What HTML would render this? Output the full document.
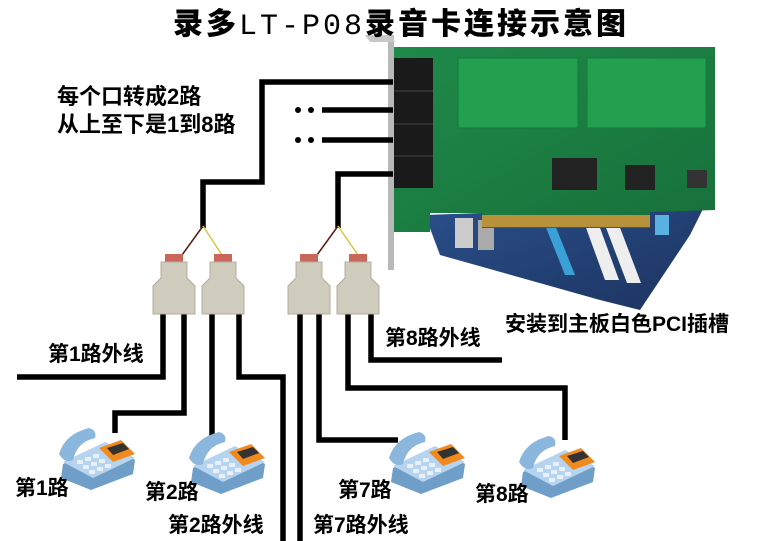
<!DOCTYPE html>
<html><head><meta charset="utf-8"><style>
html,body{margin:0;padding:0;background:#fff;}
body{width:760px;height:541px;overflow:hidden;position:relative;font-family:"Liberation Sans","Noto Sans CJK SC",sans-serif;}
.t{position:absolute;font-weight:bold;color:#000;white-space:nowrap;line-height:1;}
</style></head><body>
<svg width="760" height="541" style="position:absolute;left:0;top:0">
<defs>
<linearGradient id="pcb" x1="0" y1="0" x2="1" y2="1"><stop offset="0" stop-color="#1f8a4a"/><stop offset="1" stop-color="#17703a"/></linearGradient>
<linearGradient id="mb" x1="0" y1="0" x2="1" y2="1"><stop offset="0" stop-color="#2a4f8a"/><stop offset="1" stop-color="#1c3360"/></linearGradient>
<g id="phone">
 <path d="M8 40 L50 20 L80 36 L78 50 L36 66 L6 54 Z" fill="#6f9fc8"/>
 <path d="M8 38 L50 18 L80 34 L38 54 Z" fill="#b6d4ef"/>
 <path d="M44 24 L66 16 L80 30 L58 38 Z" fill="#f08a1e"/>
 <path d="M52 24 L68 19 L74 25 L58 31 Z" fill="#333"/>
 <path d="M4 30 Q10 10 34 4 Q42 6 40 14 Q22 18 18 36 Q10 40 4 30 Z" fill="#8bb6dd"/>
 <g fill="#e8f1fa"><rect x="22" y="36" width="6" height="4"/><rect x="30" y="33" width="6" height="4"/><rect x="38" y="30" width="6" height="4"/><rect x="28" y="41" width="6" height="4"/><rect x="36" y="38" width="6" height="4"/><rect x="44" y="35" width="6" height="4"/><rect x="34" y="46" width="6" height="4"/><rect x="42" y="43" width="6" height="4"/><rect x="50" y="40" width="6" height="4"/></g>
</g>
<g id="split">
 <rect x="14" y="0" width="18" height="8" fill="#c9685a"/>
 <path d="M10 8 H36 V24 L44 32 V60 H2 V32 L10 24 Z" fill="#cfcbbd" stroke="#b0ad9f"/>
</g>
</defs>
<path d="M425 215 L705 205 L690 235 L640 310 L600 300 L440 255 Z" fill="url(#mb)"/>
<rect x="455" y="218" width="18" height="30" fill="#ccc"/>
<rect x="478" y="220" width="16" height="30" fill="#aaa"/>
<path d="M545 225 l10 0 l20 50 l-10 0 Z" fill="#3aa0d8"/>
<path d="M585 225 l14 0 l20 55 l-14 0 Z" fill="#eee"/>
<path d="M605 225 l14 0 l22 58 l-14 0 Z" fill="#eee"/>
<rect x="655" y="215" width="14" height="20" fill="#5ab0e0"/>
<path d="M393 47 L715 47 L715 210 L650 212 L650 228 L482 228 L482 213 L430 213 L430 232 L393 232 Z" fill="url(#pcb)"/>
<rect x="458" y="58" width="120" height="70" fill="#22a050" stroke="#167a3a"/>
<rect x="587" y="58" width="119" height="70" fill="#22a050" stroke="#167a3a"/>
<rect x="552" y="158" width="45" height="32" fill="#222"/>
<rect x="625" y="165" width="30" height="25" fill="#222"/>
<rect x="687" y="170" width="20" height="18" fill="#333"/>
<rect x="482" y="215" width="168" height="12" fill="#b8923a"/>
<rect x="393" y="58" width="40" height="130" fill="#1a1a1a"/>
<g stroke="#444"><line x1="393" y1="91" x2="433" y2="91"/><line x1="393" y1="124" x2="433" y2="124"/><line x1="393" y1="156" x2="433" y2="156"/></g>
<rect x="388" y="35" width="6" height="235" fill="#b9b9b9"/>
<path d="M365 35 L392 35 L395 42 L370 42 Z" fill="#c8c8c8"/>
<g fill="none" stroke="#000" stroke-width="5.5" stroke-linejoin="miter">
<path d="M393 82 H262 V182 H203 V228"/>
<path d="M393 110 H322"/><path d="M393 140 H322"/>
<path d="M393 174 H338 V228"/>
<path d="M163 310 V377 H17"/>
<path d="M184 310 V413 H115 V433"/>
<path d="M212 310 V440"/>
<path d="M239 310 V377 H283 V541"/>
<path d="M300 310 V541"/>
<path d="M319 310 V440 H398"/>
<path d="M348 310 V388 H565 V440"/>
<path d="M371 310 V360 H502"/>
</g>
<g fill="#000"><circle cx="298" cy="110" r="3"/><circle cx="311" cy="110" r="3"/><circle cx="298" cy="140" r="3"/><circle cx="311" cy="140" r="3"/></g>
<g stroke-width="1.5" fill="none"><path d="M203 226 L182 255" stroke="#5a1a10"/><path d="M203 226 L222 255" stroke="#d8c840"/><path d="M338 226 L317 255" stroke="#5a1a10"/><path d="M338 226 L358 255" stroke="#d8c840"/></g>
<use href="#split" x="151" y="254"/><use href="#split" x="200" y="254"/>
<use href="#split" x="286" y="254"/><use href="#split" x="335" y="254"/>
<use href="#phone" x="55" y="424"/><use href="#phone" x="185" y="428"/>
<use href="#phone" x="385" y="428"/><use href="#phone" x="515" y="432"/>
</svg>
<div class="t" style="left:173px;top:6px;font-size:30px;letter-spacing:3px;font-family:'Liberation Mono','Noto Serif CJK SC',serif;font-weight:normal;"><b style="font-family:'Noto Sans CJK SC',sans-serif;font-weight:900">录多</b>LT-P08<b style="font-family:'Noto Sans CJK SC',sans-serif;font-weight:900">录音卡连接示意图</b></div>
<div class="t" style="left:57px;top:86px;font-size:22px;">每个口转成2路</div>
<div class="t" style="left:57px;top:114px;font-size:22px;">从上至下是1到8路</div>
<div class="t" style="left:505px;top:314px;font-size:21px;">安装到主板白色PCI插槽</div>
<div class="t" style="left:48px;top:344px;font-size:21px;">第1路外线</div>
<div class="t" style="left:385px;top:328px;font-size:21px;">第8路外线</div>
<div class="t" style="left:15px;top:478px;font-size:21px;">第1路</div>
<div class="t" style="left:145px;top:482px;font-size:21px;">第2路</div>
<div class="t" style="left:338px;top:480px;font-size:21px;">第7路</div>
<div class="t" style="left:475px;top:484px;font-size:21px;">第8路</div>
<div class="t" style="left:168px;top:515px;font-size:21px;">第2路外线</div>
<div class="t" style="left:313px;top:515px;font-size:21px;">第7路外线</div>
</body></html>
